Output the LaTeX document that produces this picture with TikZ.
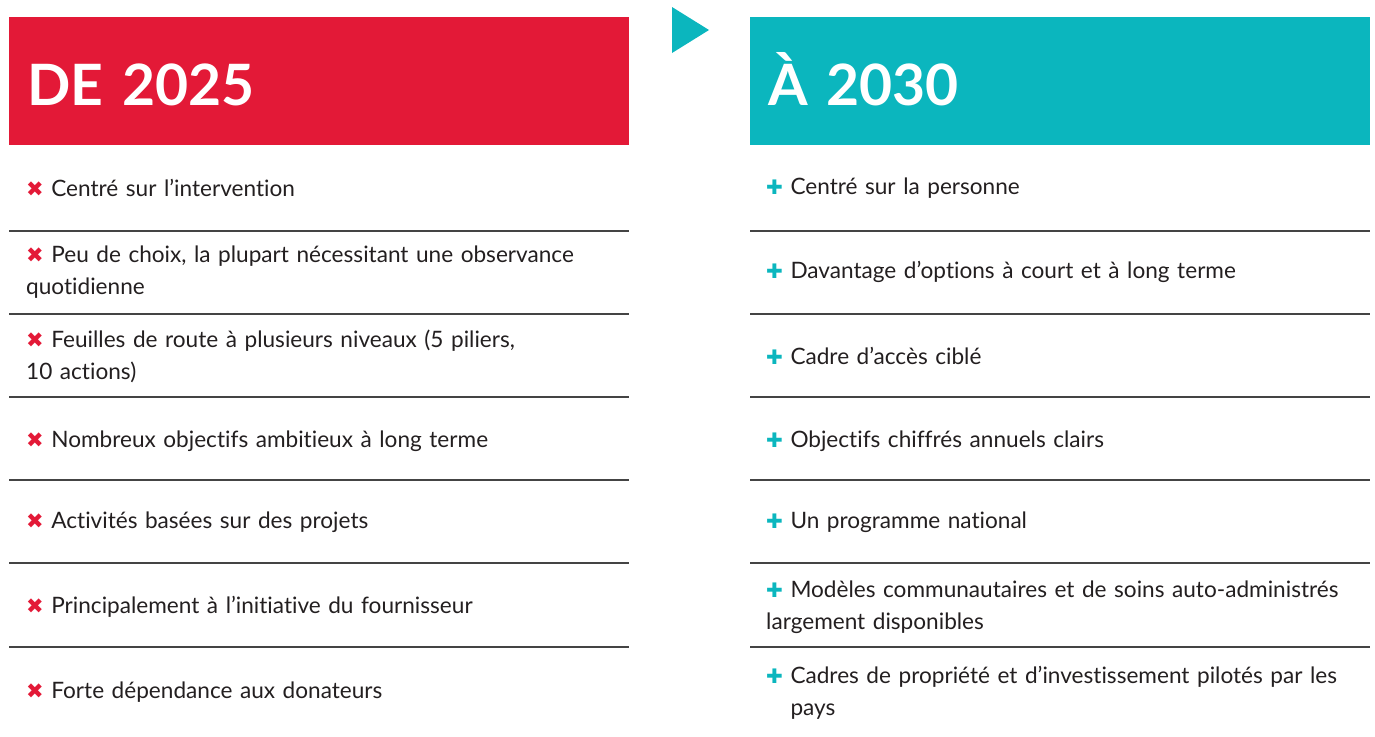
\documentclass[tikz,border=0pt]{standalone}
\usepackage{fontspec}
\setmainfont{Lato}[Ligatures=NoCommon]
\newfontfamily\markfont{DejaVu Sans}
\usetikzlibrary{positioning}

\definecolor{deRed}{HTML}{E31937}
\definecolor{aTeal}{HTML}{0BB6BE}
\definecolor{ruleGray}{HTML}{444444}
\definecolor{bodyText}{HTML}{231F20}

\newcommand{\crossmark}{{\markfont\fontsize{21}{21}\selectfont\color{deRed}✖}}
\newcommand{\plusmark}{{\markfont\fontsize{20}{20}\selectfont\color{aTeal}✚}}

\begin{document}
\begin{tikzpicture}[x=1pt, y=-1pt,
		header/.style={anchor=north west, minimum height=128pt, text width=584pt, text height=48pt, text depth=0pt, inner xsep=18pt, inner ysep=0pt, align=left, text=white, font=\fontsize{57}{57}\selectfont\bfseries},
		item/.style={anchor=west, text width=610pt, inner sep=0pt, align=left, text=bodyText, font=\fontsize{22.6}{32}\selectfont},
		rule/.style={ruleGray, line width=1.6pt}]
		\useasboundingbox (0, 0) rectangle (1375, 736);
		
		% Headers
		\node[header, fill=deRed] (from) at (9, 17) {DE 2025};
		\node[header, fill=aTeal] (to) at (750, 17) {À 2030};
		
		% Arrow between the columns
		\fill[aTeal] (672, 7) -- (709, 30) -- (672, 53) -- cycle;
		
		% Separators
		\foreach \y in {231, 314, 397, 480, 563, 647} {
			\draw[rule] (from.west |- 0, \y) -- (from.east |- 0, \y);
			\draw[rule] (to.west |- 0, \y) -- (to.east |- 0, \y);
		}
		
		% From 2025
		\node[item] (from1) at (26, 188) {\crossmark\ Centré sur l’intervention};
		\node[item] (from2) at (26, 272) {\crossmark\ Peu de choix, la plupart nécessitant une observance\\quotidienne};
		\node[item] (from3) at (26, 356) {\crossmark\ Feuilles de route à plusieurs niveaux (5 piliers,\\10 actions)};
		\node[item] (from4) at (26, 441) {\crossmark\ Nombreux objectifs ambitieux à long terme};
		\node[item] (from5) at (26, 522) {\crossmark\ Activités basées sur des projets};
		\node[item] (from6) at (26, 607) {\crossmark\ Principalement à l’initiative du fournisseur};
		\node[item] (from7) at (26, 692) {\crossmark\ Forte dépendance aux donateurs};
		
		% To 2030
		\node[item] (to1) at (766, 188) {\plusmark\ Centré sur la personne};
		\node[item] (to2) at (766, 272) {\plusmark\ Davantage d’options à court et à long terme};
		\node[item] (to3) at (766, 356) {\plusmark\ Cadre d’accès ciblé};
		\node[item] (to4) at (766, 441) {\plusmark\ Objectifs chiffrés annuels clairs};
		\node[item] (to5) at (766, 522) {\plusmark\ Un programme national};
		\node[item] (to6) at (766, 607) {\plusmark\ Modèles communautaires et de soins auto-administrés\\largement disponibles};
		\node[item] (to7) at (766, 693) {\plusmark\ Cadres de propriété et d’investissement pilotés par les\\\phantom{\plusmark\ }pays};
		
	\end{tikzpicture}
\end{document}
